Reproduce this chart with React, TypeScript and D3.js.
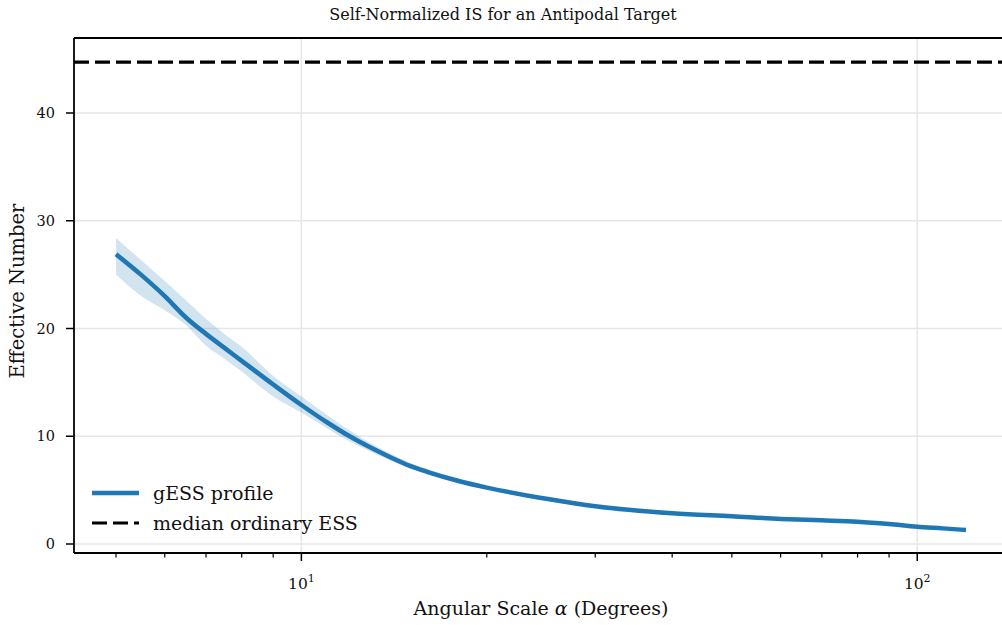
import * as d3 from "d3";

// angular scale (degrees) and gESS profile
const alpha = [5, 5.5, 6, 6.5, 7, 7.5, 8, 9, 10, 11, 12, 13, 14, 15, 16, 18, 20, 25, 30, 40, 50, 60, 70, 80, 90, 100, 110, 120];
const gess = [26.9, 24.95, 23.0, 21.0, 19.5, 18.2, 17.0, 14.8, 12.9, 11.3, 9.97, 8.9, 8.0, 7.25, 6.7, 5.85, 5.23, 4.2, 3.5, 2.85, 2.57, 2.33, 2.2, 2.07, 1.85, 1.6, 1.45, 1.3];
const bandLow = [25.0, 23.0, 21.7, 20.3, 18.4, 17.2, 16.0, 13.7, 12.2, 10.75, 9.5, 8.55, 7.7, 7.0, 6.48, 5.67, 5.09, 4.1, 3.45, 2.81, 2.53, 2.29, 2.16, 2.03, 1.81, 1.56, 1.41, 1.26];
const bandHigh = [28.4, 26.3, 24.4, 22.6, 20.9, 19.5, 18.3, 15.6, 13.7, 12.0, 10.5, 9.3, 8.35, 7.55, 6.95, 6.05, 5.38, 4.3, 3.55, 2.89, 2.61, 2.37, 2.24, 2.11, 1.89, 1.64, 1.49, 1.34];
const medianESS = 44.73;

const yTicks = [0, 10, 20, 30, 40];
const xMajor = [10, 100];
const xMinor = [5, 6, 7, 8, 9, 20, 30, 40, 50, 60, 70, 80, 90];

const W = 1002;
const H = 625;
const left = 74, right = 1008, top = 38, bottom = 553;
const blue = "#1f77b4";
const font = "'DejaVu Serif', serif";
const ink = "#111";

export default function App() {
  const x = d3.scaleLog().domain([5 / 1.17, 120 * 1.17]).range([left, right]);
  const y = d3.scaleLinear().domain([-0.835, 46.96]).range([bottom, top]);

  const pts = alpha.map((a, i) => ({ a, v: gess[i], lo: bandLow[i], hi: bandHigh[i] }));

  const line = d3.line<any>().x(d => x(d.a)).y(d => y(d.v)).curve(d3.curveMonotoneX);
  const area = d3.area<any>().x(d => x(d.a)).y0(d => y(d.lo)).y1(d => y(d.hi)).curve(d3.curveMonotoneX);

  return (
    <svg width={W} height={H} style={{ position: "absolute", left: 0, top: 0, fontFamily: font }}>
      <rect width={W} height={H} fill="#fff" />
      <defs>
        <clipPath id="plot">
          <rect x={left} y={top} width={right - left} height={bottom - top} />
        </clipPath>
      </defs>

      {/* grid */}
      {yTicks.map(t => (
        <line key={"gy" + t} x1={left} x2={right} y1={y(t)} y2={y(t)} stroke="#e6e6e6" strokeWidth={1.5} />
      ))}
      {xMajor.map(t => (
        <line key={"gx" + t} x1={x(t)} x2={x(t)} y1={top} y2={bottom} stroke="#e6e6e6" strokeWidth={1.5} />
      ))}

      <g clipPath="url(#plot)">
        <path d={area(pts) ?? ""} fill={blue} fillOpacity={0.2} />
        <path d={line(pts) ?? ""} fill="none" stroke={blue} strokeWidth={4.5} strokeLinejoin="round" />
        <line x1={left} x2={right} y1={y(medianESS)} y2={y(medianESS)} stroke="#000" strokeWidth={3.2} strokeDasharray="15,6" />
      </g>

      {/* spines */}
      <line x1={left} x2={left} y1={top} y2={bottom} stroke="#000" strokeWidth={1.8} />
      <line x1={left} x2={right} y1={bottom} y2={bottom} stroke="#000" strokeWidth={1.8} />
      <line x1={left} x2={right} y1={top} y2={top} stroke="#000" strokeWidth={1.8} />

      {/* y axis */}
      {yTicks.map(t => (
        <g key={"ty" + t}>
          <line x1={left - 8} x2={left} y1={y(t)} y2={y(t)} stroke="#000" strokeWidth={1.5} />
          <text x={55} y={y(t)} dy="0.35em" textAnchor="end" fontSize={14.5} fill={ink} style={{ fontFamily: font }}>{t}</text>
        </g>
      ))}

      {/* x axis */}
      {xMinor.map(t => (
        <line key={"mx" + t} x1={x(t)} x2={x(t)} y1={bottom} y2={bottom + 4.5} stroke="#000" strokeWidth={1.2} />
      ))}
      {xMajor.map(t => (
        <g key={"tx" + t}>
          <line x1={x(t)} x2={x(t)} y1={bottom} y2={bottom + 8} stroke="#000" strokeWidth={1.5} />
          <text x={x(t)} y={589} textAnchor="middle" fontSize={15.5} fill={ink} style={{ fontFamily: font }}>
            10<tspan fontSize={11} dy={-7}>{Math.round(Math.log10(t))}</tspan>
          </text>
        </g>
      ))}

      <text x={(left + right) / 2} y={615} textAnchor="middle" fontSize={19} fill={ink} style={{ fontFamily: font }}>
        Angular Scale <tspan fontStyle="italic">α</tspan> (Degrees)
      </text>
      <text transform={`translate(17,291) rotate(-90)`} textAnchor="middle" dy="0.35em" fontSize={19.5} fill={ink} style={{ fontFamily: font }}>
        Effective Number
      </text>
      <text x={503} y={20} textAnchor="middle" fontSize={16} fill={ink} style={{ fontFamily: font }}>
        Self-Normalized IS for an Antipodal Target
      </text>

      {/* legend */}
      <line x1={92} x2={139} y1={493} y2={493} stroke={blue} strokeWidth={4.5} />
      <text x={153} y={493} dy="0.35em" fontSize={19} fill={ink} style={{ fontFamily: font }}>gESS profile</text>
      <line x1={92} x2={139} y1={523} y2={523} stroke="#000" strokeWidth={3.2} strokeDasharray="15,6" />
      <text x={153} y={523} dy="0.35em" fontSize={19} fill={ink} style={{ fontFamily: font }}>median ordinary ESS</text>
    </svg>
  );
}
